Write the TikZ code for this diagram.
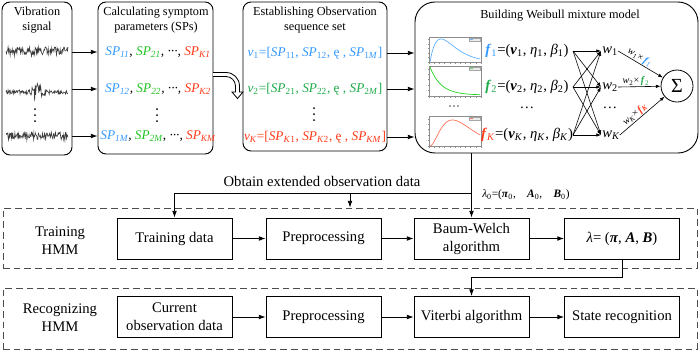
\documentclass[tikz,border=0pt]{standalone}
\usepackage{fontspec}
\setmainfont{Liberation Serif}
\usetikzlibrary{arrows.meta,calc}
\definecolor{cblue}{HTML}{3399FF}
\definecolor{cgreen}{HTML}{22C422}
\definecolor{vgreen}{HTML}{1FAA4A}
\definecolor{cred}{HTML}{FF3A1A}
\definecolor{wave}{HTML}{3A3A3A}
\tikzset{
 arr/.style={-{Latex[length=5pt,width=3.5pt]}, line width=0.6pt},
 sarr/.style={-{Latex[length=3.5pt,width=2.6pt]}, line width=0.45pt},
 rbox/.style={draw, line width=0.7pt, rounded corners=6pt, inner sep=0pt},
 proc/.style={draw, line width=0.6pt, minimum width=86.25pt, minimum height=30.75pt, align=center, inner sep=1pt, font=\fontsize{11}{13.5}\selectfont},
 dbox/.style={draw=black!70, line width=0.6pt, dash pattern=on 5pt off 3pt, minimum width=520.5pt, inner sep=0pt},
 title/.style={align=center, font=\fontsize{9.2}{11.25}\selectfont, inner sep=0pt},
 row/.style={font=\fontsize{10}{12}\selectfont, inner sep=0pt},
 frow/.style={font=\fontsize{11}{13}\selectfont, inner sep=0pt},
 lab/.style={align=center, font=\fontsize{11}{13.5}\selectfont, inner sep=0pt},
 wlab/.style={font=\fontsize{7.5}{7.5}\selectfont, inner sep=0.5pt},
 vdot/.style={circle, fill=black, inner sep=0pt, minimum size=1.5pt},
 panel/.style={draw=black!45, line width=0.3pt},
 wv/.style={wave, line width=0.45pt},
}
\begin{document}
\begin{tikzpicture}[x=0.75pt,y=-0.75pt]
\useasboundingbox (0,0) rectangle (700,351);
% ---------- top boxes
\node[rbox, minimum width=52.5pt, minimum height=114.75pt] (vib) at (37,78.5) {};
\node[rbox, minimum width=86.25pt, minimum height=114pt] (calc) at (155.5,78) {};
\node[rbox, minimum width=108pt, minimum height=111.75pt] (est) at (315,76.5) {};
\node[rbox, rounded corners=15pt, minimum width=212.25pt, minimum height=113.25pt] (wb) at (556.5,77.5) {};
\node[title] (tvib) at (37,20) {Vibration\\signal};
\node[title] (tcalc) at (156,20.5) {Calculating symptom\\parameters (SPs)};
\node[title] (test) at (315,20) {Establishing Observation\\sequence set};
\node[title] (twb) at (560,15.5) {Building Weibull mixture model};
% ---------- waveforms
\pgfmathsetseed{11}
\draw[wv] plot[domain=6:68, samples=120] (\x, {51+4*rand+5*rand*rand*rand});
\draw[wv] plot[domain=6:68, samples=120] (\x, {92+(2.2+8*exp(-((\x-37)/6)^2))*rand});
\draw[wv] plot[domain=6:68, samples=120] (\x, {136+3.5*rand+4*rand*rand*rand});
\node[vdot] (vd1) at (35,109) {};
\node[vdot] (vd2) at (35,115) {};
\node[vdot] (vd3) at (35,121) {};
% ---------- SP rows
\node[row] (sp1) at (158,52) {\textit{\textcolor{cblue}{SP\textsubscript{11}}, \textcolor{cgreen}{SP\textsubscript{21}}, ···, \textcolor{cred}{SP\textsubscript{K1}}}};
\node[row] (sp2) at (158,89) {\textit{\textcolor{cblue}{SP\textsubscript{12}}, \textcolor{cgreen}{SP\textsubscript{22}}, ···, \textcolor{cred}{SP\textsubscript{K2}}}};
\node[row] (sp3) at (158,136) {\textit{\textcolor{cblue}{SP\textsubscript{1M}}, \textcolor{cgreen}{SP\textsubscript{2M}}, ···, \textcolor{cred}{SP\textsubscript{KM}}}};
\node[vdot] (cd1) at (157,109) {};
\node[vdot] (cd2) at (157,115) {};
\node[vdot] (cd3) at (157,121) {};
\draw[arr] (vib.east |- sp1) -- (calc.west |- sp1);
\draw[arr] (vib.east |- sp2) -- (calc.west |- sp2);
\draw[arr] (vib.east |- sp3) -- (calc.west |- sp3);
% ---------- hollow arrow
\draw[line width=0.6pt, fill=white] (213,72.5) -- (226,72.5) .. controls (233.5,72.5) and (239.5,78.5) .. (239.5,86) -- (239.5,92) -- (243,92) -- (237.5,98.5) -- (232,92) -- (235.5,92) -- (235.5,86) .. controls (235.5,80.8) and (231.2,76.5) .. (226,76.5) -- (213,76.5);
% ---------- observation rows
\node[row] (v1) at (315,53) {\textcolor{cblue}{\textit{v}\textsubscript{1}=[\textit{SP}\textsubscript{11}, \textit{SP}\textsubscript{12}, ę , \textit{SP}\textsubscript{1\textit{M}}]}};
\node[row] (v2) at (315,89) {\textcolor{vgreen}{\textit{v}\textsubscript{2}=[\textit{SP}\textsubscript{21}, \textit{SP}\textsubscript{22}, ę , \textit{SP}\textsubscript{2\textit{M}}]}};
\node[row] (v3) at (315,137) {\textcolor{cred}{\textit{v\textsubscript{K}}=[\textit{SP}\textsubscript{\textit{K}1}, \textit{SP}\textsubscript{\textit{K}2}, ę , \textit{SP}\textsubscript{\textit{KM}}]}};
\node[vdot] (ed1) at (314,108) {};
\node[vdot] (ed2) at (314,114) {};
\node[vdot] (ed3) at (314,120) {};
\draw[arr] (est.east |- v1) -- (wb.west |- v1);
\draw[arr] (est.east |- v2) -- (wb.west |- v2);
\draw[arr] (est.east |- v3) -- (wb.west |- v3);
% ---------- plot panels
\foreach \t/\b in {37/62, 66/96, 116/146}{
  \draw[panel] (429,\t) rectangle (481,\b);
  \foreach \k in {0,...,10} \draw[panel] ({429+5.2*\k},\b) -- ++(0,1.5);
  \foreach \k in {0,...,5} \draw[panel] (429,{\b-\k*(\b-\t)/5.5}) -- ++(-1.5,0);
  \draw[draw=black!35, fill=black!8, line width=0.2pt] (469,{\t+1.2}) rectangle (480,{\t+4.2});
}
\draw[cblue!70, line width=0.3pt] (470,38.7) -- (473,38.7);
\draw[cgreen!70, line width=0.3pt] (470,67.7) -- (473,67.7);
\draw[cred!70, line width=0.3pt] (470,117.7) -- (473,117.7);
\draw[cblue!80, line width=0.5pt] plot[domain=0:1, samples=60] ({430+50*\x}, {62-23*(\x/0.22)*exp(1-\x/0.22)});
\draw[green!80!black!90, line width=0.5pt] plot[domain=0:1, samples=60] ({430+50*\x}, {67+28*(1-exp(-4.5*\x))});
\draw[cred!75, line width=0.5pt] plot[domain=0:1, samples=60] ({430+50*\x}, {146-26*(\x/0.45)*(\x/0.45)*exp(2-2*\x/0.45)});
\node[font=\fontsize{9}{9}\selectfont, inner sep=0pt] (pdots) at (454,108) {···};
% ---------- Weibull rows
\node[frow] (f1) at (527,51) {\textcolor{cblue}{\textbf{\textit{f}}\textsubscript{1}}=(\textbf{\textit{v}}\textsubscript{1}, \textit{η}\textsubscript{1}, \textit{β}\textsubscript{1})};
\node[frow] (f2) at (527,87) {\textcolor{vgreen}{\textbf{\textit{f}}\textsubscript{2}}=(\textbf{\textit{v}}\textsubscript{2}, \textit{η}\textsubscript{2}, \textit{β}\textsubscript{2})};
\node[frow] (f3) at (527,135) {\textcolor{cred}{\textbf{\textit{f}}\textsubscript{\textit{K}}}=(\textbf{\textit{v}}\textsubscript{\textit{K}}, \textit{η}\textsubscript{\textit{K}}, \textit{β}\textsubscript{\textit{K}})};
\node[frow] (fdots) at (527,108) {…};
\foreach \i/\y in {1/51, 2/87, 3/135}{
  \coordinate (L\i) at (573,\y);
  \coordinate (R\i) at (601,\y);
}
\foreach \i in {1,2,3}{
  \foreach \j in {1,2,3}{
    \draw[sarr] (L\i) -- (R\j);
  }
}
\node[frow, anchor=west] (w1) at (602,51) {\textit{w}\textsubscript{1}};
\node[frow, anchor=west] (w2) at (602,87) {\textit{w}\textsubscript{2}};
\node[frow, anchor=west] (w3) at (602,135) {\textit{w\textsubscript{K}}};
\node[frow] (wdots) at (610,108) {…};
\node[circle, draw, line width=0.6pt, minimum size=24pt, inner sep=0pt, font=\fontsize{15}{15}\selectfont] (sig) at (677,86) {Σ};
\draw[sarr] (w1.east) -- (sig) node[pos=0.42, sloped, above, wlab] {\textit{w}\textsubscript{1}×\,\textcolor{cblue}{\textbf{\textit{f}}\textsubscript{1}}};
\draw[sarr] (w2.east) -- (sig) node[pos=0.42, above, wlab] {\textit{w}\textsubscript{2}×\,\textcolor{vgreen}{\textbf{\textit{f}}\textsubscript{2}}};
\draw[sarr] (w3.east) -- (sig) node[pos=0.42, sloped, above, wlab] {\textit{w\textsubscript{K}}×\,\textcolor{cred}{\textbf{\textit{f\textsubscript{K}}}}};
% ---------- lower part
\node[dbox, minimum height=45pt] (trn) at (350,238) {};
\node[dbox, minimum height=45.75pt] (rec) at (350,318.5) {};
\node[lab] (ltrn) at (60,240.5) {Training\\HMM};
\node[lab] (lrec) at (60,318) {Recognizing\\HMM};
\node[proc] (td) at (174.5,238.5) {Training data};
\node[proc] (pp1) at (323.5,238.5) {Preprocessing};
\node[proc] (bw) at (471.5,238.5) {Baum-Welch\\algorithm};
\node[proc] (lam) at (622,238.5) {\textit{λ}= (\textbf{\textit{π}}, \textbf{\textit{A}}, \textbf{\textit{B}})};
\node[proc] (cod) at (174.5,317) {Current\\observation data};
\node[proc] (pp2) at (323.5,317) {Preprocessing};
\node[proc] (vit) at (471.5,317) {Viterbi algorithm};
\node[proc] (sr) at (622,317) {State recognition};
\draw[arr] (td) -- (pp1);
\draw[arr] (pp1) -- (bw);
\draw[arr] (bw) -- (lam);
\draw[arr] (cod) -- (pp2);
\draw[arr] (pp2) -- (vit);
\draw[arr] (vit) -- (sr);
\draw[arr] (wb.south -| bw.north) -- (bw.north);
\coordinate (jn) at (471.5,193);
\coordinate (jm) at (350,193);
\draw[arr] (jn) -| (td.north);
\draw[arr] (jm) -- (jm |- trn.north);
\draw[arr] (lam.south) -- ++(0,18) -| (vit.north);
\node[lab] (obt) at (322,181) {Obtain extended observation data};
\node[anchor=west, inner sep=0pt, font=\fontsize{8.5}{8.5}\selectfont] (lam0) at (482,195) {\textit{λ}\textsubscript{0}=(\textbf{\textit{π}}\textsubscript{0},\quad\textbf{\textit{A}}\textsubscript{0},\quad\textbf{\textit{B}}\textsubscript{0})};
\end{tikzpicture}
\end{document}
